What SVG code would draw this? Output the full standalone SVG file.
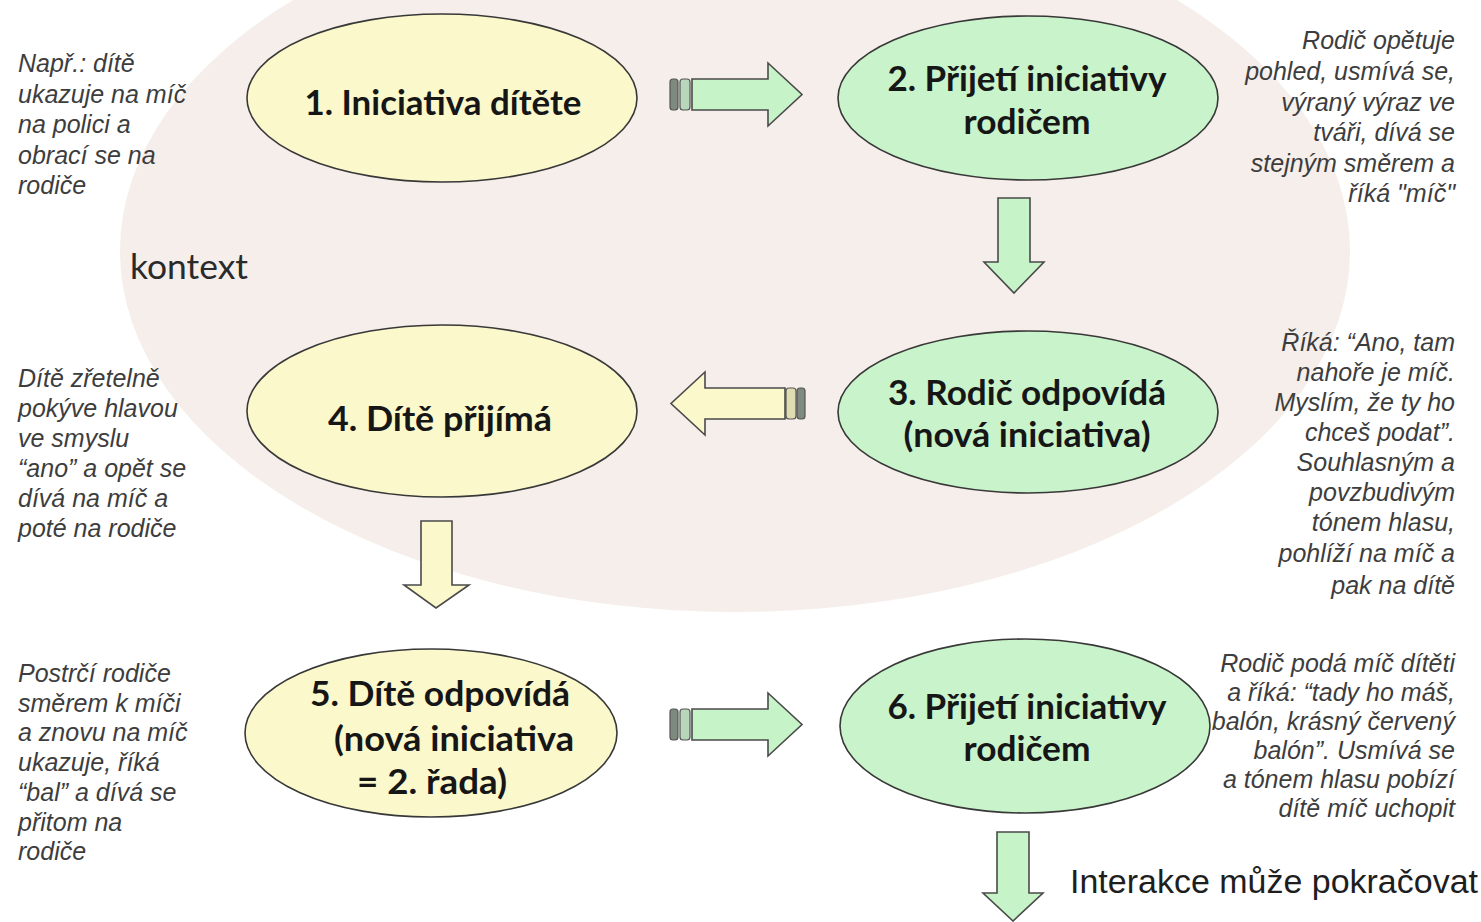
<svg xmlns="http://www.w3.org/2000/svg" width="1481" height="922" viewBox="0 0 1481 922">
<style>
.bg{fill:#f5eeea}
.ny{fill:#fbf8cb;stroke:#383838;stroke-width:1.6}
.ng{fill:#c9f3ca;stroke:#383838;stroke-width:1.6}
.ay{fill:#fbf8cb;stroke:#4a4a4a;stroke-width:1.6;stroke-linejoin:miter}
.ag{fill:#c6f4c8;stroke:#4a4a4a;stroke-width:1.6;stroke-linejoin:miter}
.sd{fill:#7f8a7f;stroke:#555;stroke-width:1.2}
.sl{fill:#b8d6b9;stroke:#555;stroke-width:1.2}
.sly{fill:#dedcb0;stroke:#555;stroke-width:1.2}
.nt{font-family:Lato,"Open Sans","DejaVu Sans",sans-serif;font-weight:bold;font-size:34px;fill:#161616}
.side{font-family:"Liberation Sans",Arial,sans-serif;font-style:italic;font-size:25px;fill:#3d3d3d}
.ctx{font-family:Lato,"Open Sans",sans-serif;font-size:34px;fill:#2a2a2a}
.cont{font-family:"Liberation Sans",Arial,sans-serif;font-size:34px;fill:#1e1e1e}
</style>
<rect width="1481" height="922" fill="#ffffff"/>
<ellipse class="bg" cx="735" cy="251" rx="615" ry="361"/>
<text class="ctx" x="130" y="279" textLength="118" lengthAdjust="spacingAndGlyphs">kontext</text>

<g id="notes">
<g class="side">
<text x="18" y="72">Např.: dítě</text>
<text x="18" y="102.5">ukazuje na míč</text>
<text x="18" y="133">na polici a</text>
<text x="18" y="163.5">obrací se na</text>
<text x="18" y="194">rodiče</text>
</g>
<g class="side">
<text x="18" y="387">Dítě zřetelně</text>
<text x="18" y="417">pokýve hlavou</text>
<text x="18" y="447">ve smyslu</text>
<text x="18" y="477">“ano” a opět se</text>
<text x="18" y="507">dívá na míč a</text>
<text x="18" y="537">poté na rodiče</text>
</g>
<g class="side">
<text x="18" y="682">Postrčí rodiče</text>
<text x="18" y="711.7">směrem k míči</text>
<text x="18" y="741.4">a znovu na míč</text>
<text x="18" y="771.1">ukazuje, říká</text>
<text x="18" y="800.8">“bal” a dívá se</text>
<text x="18" y="830.5">přitom na</text>
<text x="18" y="860.2">rodiče</text>
</g>
<g class="side" text-anchor="end">
<text x="1455" y="49">Rodič opětuje</text>
<text x="1455" y="80">pohled, usmívá se,</text>
<text x="1455" y="111">výraný výraz ve</text>
<text x="1455" y="141">tváři, dívá se</text>
<text x="1455" y="172">stejným směrem a</text>
<text x="1455" y="202">říká "míč"</text>
</g>
<g class="side" text-anchor="end">
<text x="1455" y="351">Říká: “Ano, tam</text>
<text x="1455" y="381">nahoře je míč.</text>
<text x="1455" y="411">Myslím, že ty ho</text>
<text x="1455" y="441">chceš podat”.</text>
<text x="1455" y="471">Souhlasným a</text>
<text x="1455" y="501">povzbudivým</text>
<text x="1455" y="531">tónem hlasu,</text>
<text x="1455" y="562">pohlíží na míč a</text>
<text x="1455" y="594">pak na dítě</text>
</g>
<g class="side" text-anchor="end">
<text x="1455" y="672">Rodič podá míč dítěti</text>
<text x="1455" y="701">a říká: “tady ho máš,</text>
<text x="1455" y="730">balón, krásný červený</text>
<text x="1455" y="759">balón”. Usmívá se</text>
<text x="1455" y="788">a tónem hlasu pobízí</text>
<text x="1455" y="817">dítě míč uchopit</text>
</g>
</g>

<g id="connectors">
<g id="a12">
<rect class="sd" x="670" y="79" width="8" height="31" rx="3"/>
<rect class="sl" x="680" y="79" width="10" height="31" rx="3"/>
<path class="ag" d="M692,79 L768,79 L768,63 L802,94.5 L768,126 L768,110 L692,110 Z"/>
</g>
<g id="a23">
<path class="ag" d="M998,198 L1030,198 L1030,262 L1044,262 L1014,293 L984,262 L998,262 Z"/>
</g>
<g id="a34">
<rect class="sd" x="797" y="388" width="8" height="31" rx="3"/>
<rect class="sly" x="786" y="388" width="10" height="31" rx="3"/>
<path class="ay" d="M785,388 L705,388 L705,372 L671,403.5 L705,435 L705,419 L785,419 Z"/>
</g>
<g id="a45">
<path class="ay" d="M421,521 L452,521 L452,585 L469,585 L436,608 L404,585 L421,585 Z"/>
</g>
<g id="a56">
<rect class="sd" x="670" y="709" width="8" height="31" rx="3"/>
<rect class="sl" x="680" y="709" width="10" height="31" rx="3"/>
<path class="ag" d="M692,709 L768,709 L768,693 L802,724.5 L768,756 L768,740 L692,740 Z"/>
</g>
<g id="a6out">
<path class="ag" d="M997,832 L1029,832 L1029,893 L1043,893 L1013,921 L983,893 L997,893 Z"/>
</g>
</g>

<g id="n1">
<ellipse class="ny" cx="442" cy="98" rx="195" ry="84"/>
<text class="nt" x="443" y="115" text-anchor="middle" textLength="277" lengthAdjust="spacingAndGlyphs">1. Iniciativa dítěte</text>
</g>
<g id="n2">
<ellipse class="ng" cx="1028" cy="98" rx="190" ry="82"/>
<text class="nt" x="1027" y="91" text-anchor="middle" textLength="279" lengthAdjust="spacingAndGlyphs">2. Přijetí iniciativy</text>
<text class="nt" x="1027" y="134" text-anchor="middle" textLength="127" lengthAdjust="spacingAndGlyphs">rodičem</text>
</g>
<g id="n3">
<ellipse class="ng" cx="1028" cy="412" rx="190" ry="81"/>
<text class="nt" x="1027" y="405" text-anchor="middle" textLength="278" lengthAdjust="spacingAndGlyphs">3. Rodič odpovídá</text>
<text class="nt" x="1027" y="447" text-anchor="middle" textLength="247" lengthAdjust="spacingAndGlyphs">(nová iniciativa)</text>
</g>
<g id="n4">
<ellipse class="ny" cx="442" cy="411" rx="195" ry="86"/>
<text class="nt" x="440" y="431" text-anchor="middle" textLength="224" lengthAdjust="spacingAndGlyphs">4. Dítě přijímá</text>
</g>
<g id="n5">
<ellipse class="ny" cx="431" cy="733" rx="186" ry="84"/>
<text class="nt" x="310" y="706" textLength="260" lengthAdjust="spacingAndGlyphs">5. Dítě odpovídá</text>
<text class="nt" x="334" y="751" textLength="240" lengthAdjust="spacingAndGlyphs">(nová iniciativa</text>
<text class="nt" x="357" y="794" textLength="150" lengthAdjust="spacingAndGlyphs">= 2. řada)</text>
</g>
<g id="n6">
<ellipse class="ng" cx="1025" cy="726" rx="185" ry="87"/>
<text class="nt" x="1027" y="719" text-anchor="middle" textLength="279" lengthAdjust="spacingAndGlyphs">6. Přijetí iniciativy</text>
<text class="nt" x="1027" y="761" text-anchor="middle" textLength="127" lengthAdjust="spacingAndGlyphs">rodičem</text>
</g>

<text class="cont" x="1070" y="893" textLength="408" lengthAdjust="spacingAndGlyphs">Interakce může pokračovat</text>
</svg>
